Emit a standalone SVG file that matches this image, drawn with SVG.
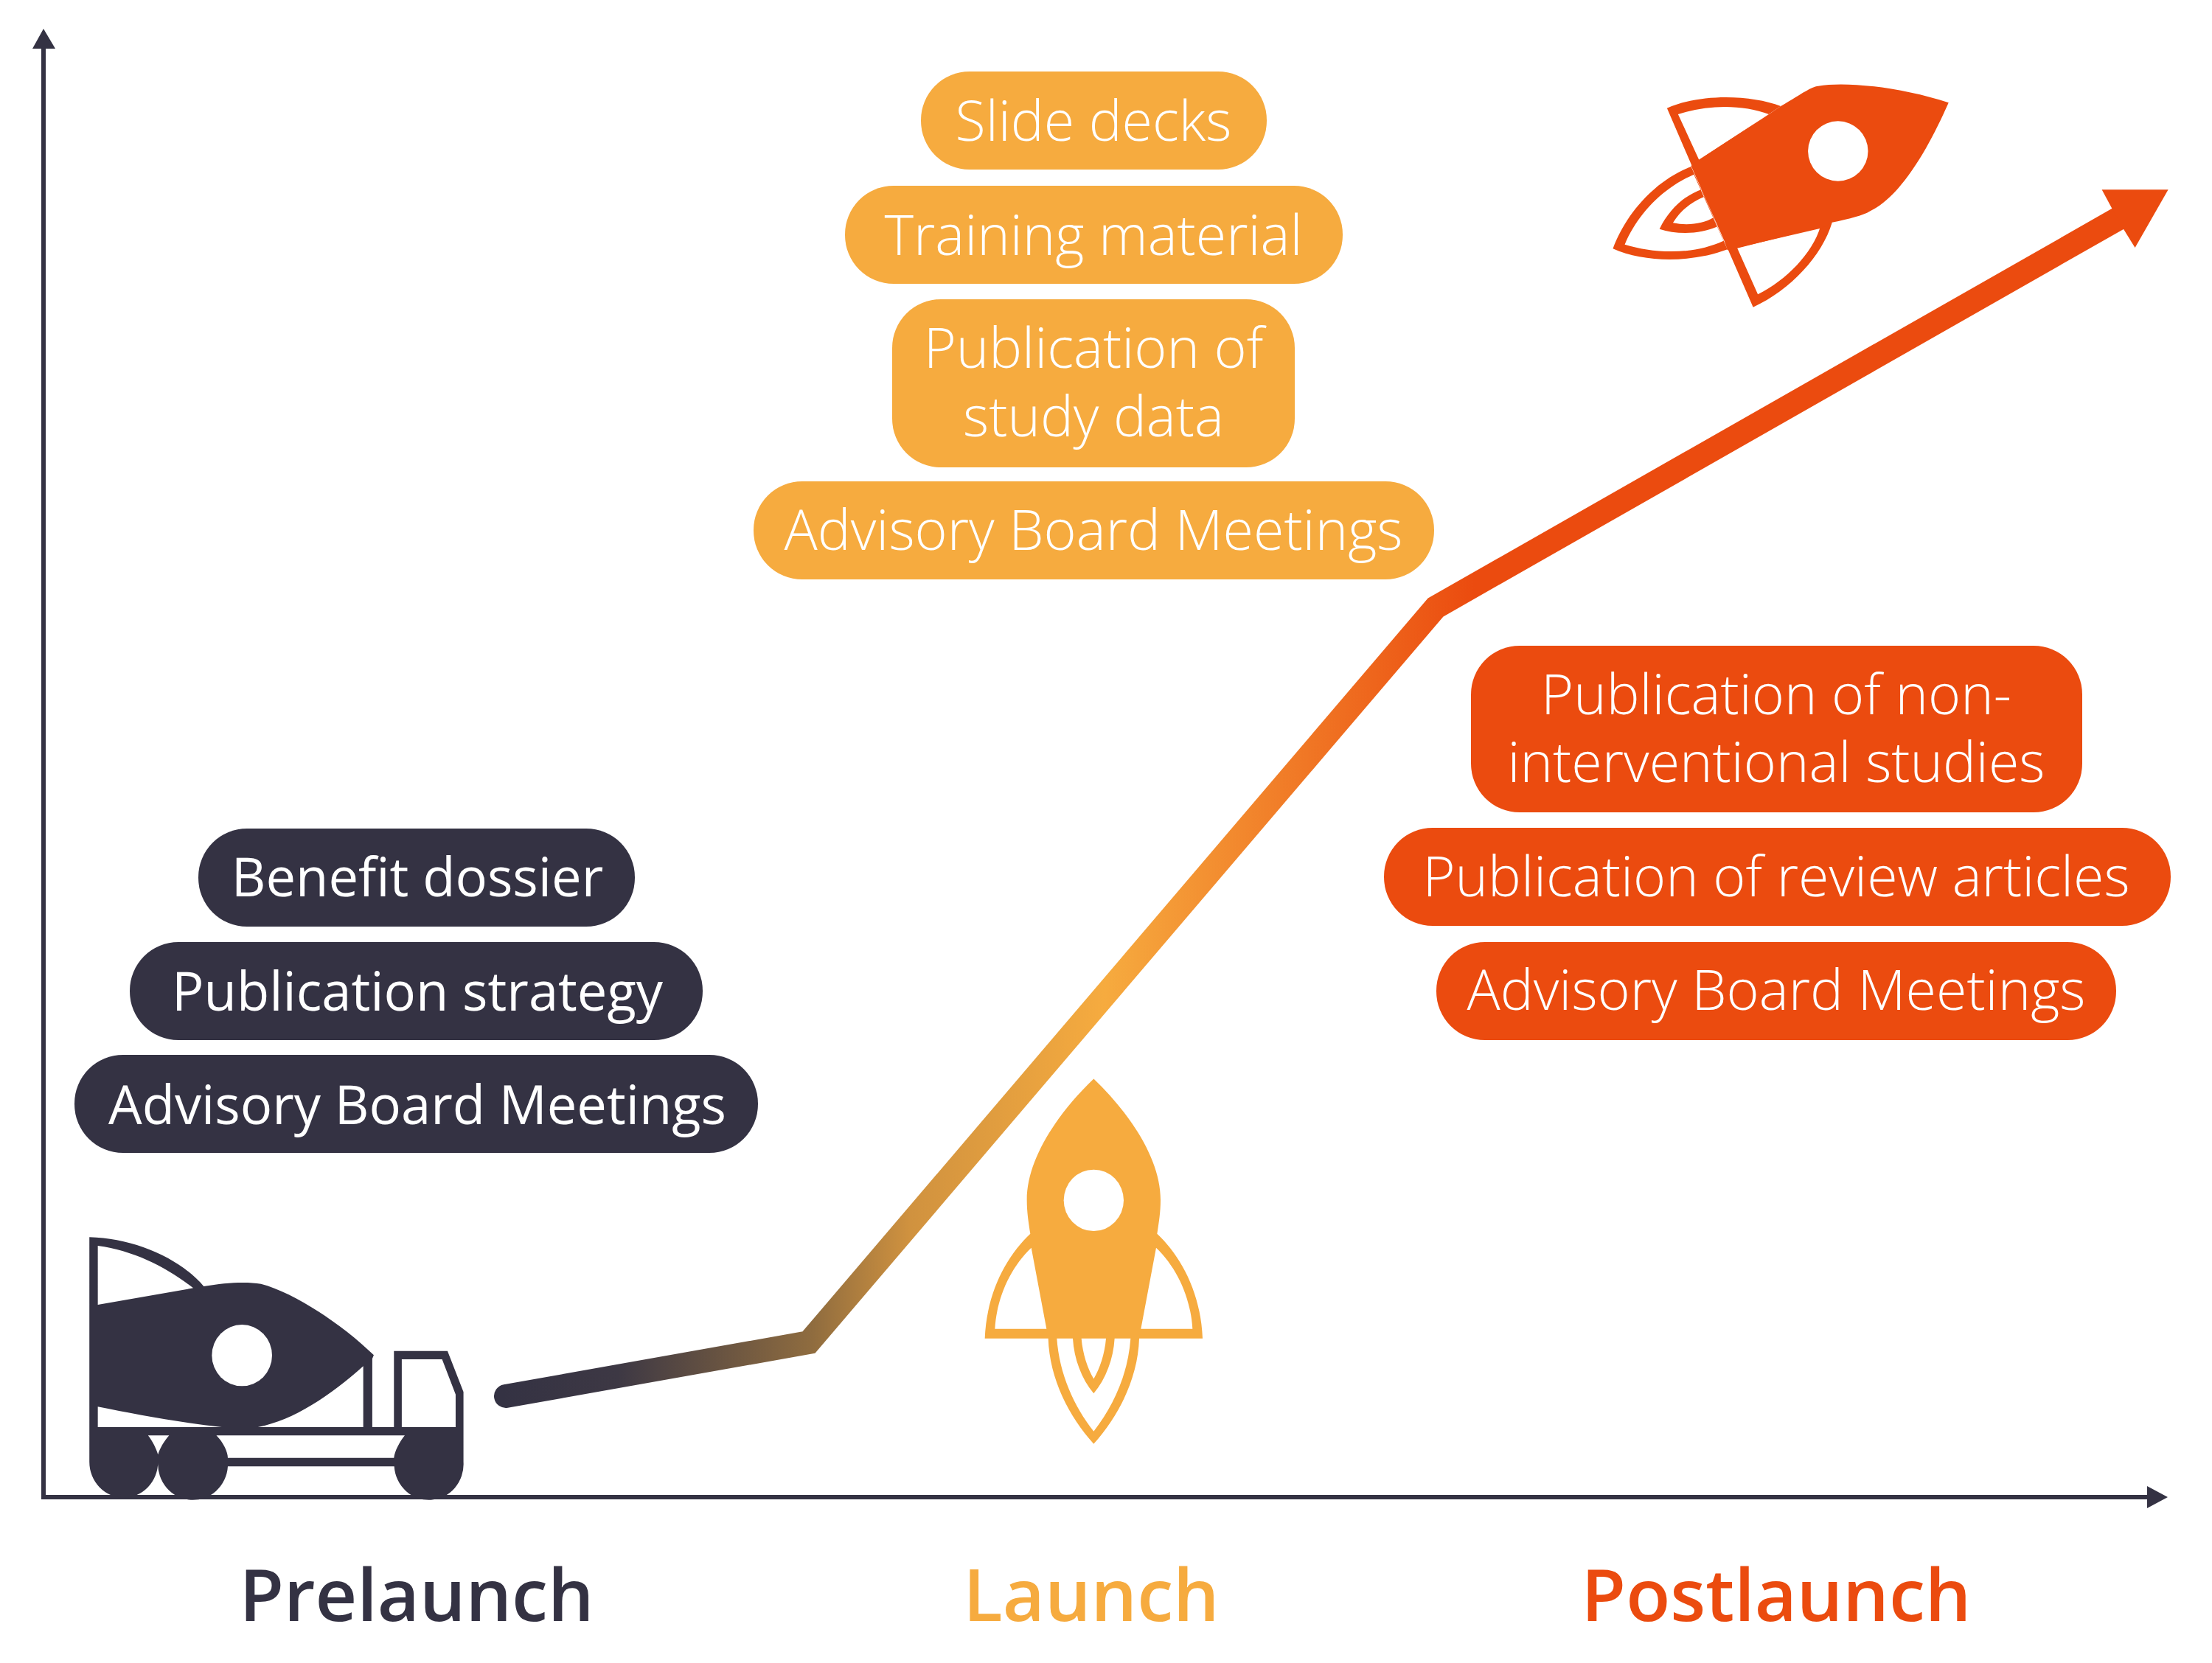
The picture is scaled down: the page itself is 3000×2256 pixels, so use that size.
<svg xmlns="http://www.w3.org/2000/svg" width="3000" height="2256" viewBox="0 0 3000 2256">
<style>
.d{fill:#343243}.y{fill:#F6AB3F}.o{fill:#EB4B0F}
.t{font-family:"Open Sans","Liberation Sans",sans-serif;font-size:72.3px;font-weight:400;fill:#fff;text-anchor:middle}
.l{font-weight:300;font-size:75.4px}
.h{font-family:"Open Sans","Liberation Sans",sans-serif;font-size:98.5px;font-weight:600;text-anchor:middle}
.w{fill:#fff}
</style>
<defs>
<linearGradient id="g" gradientUnits="userSpaceOnUse" x1="679" y1="0" x2="2000" y2="0">
<stop offset="0" stop-color="#343243"/><stop offset="0.12" stop-color="#3d3844"/><stop offset="0.32" stop-color="#8f6c3f"/><stop offset="0.42" stop-color="#d0923f"/><stop offset="0.62" stop-color="#F6AB3F"/><stop offset="1" stop-color="#EB4B0F"/>
</linearGradient>
</defs>
<g id="connectors">
<path class="d" d="M56 2028H2912V2016L2940 2031L2912 2046V2034H56Z"/>
<path class="d" d="M56 2034V66H44L59 39L75 66H62V2034Z"/>
<path d="M686 1894L1097 1821L1947 824L2872 297" fill="none" stroke="url(#g)" stroke-width="32" stroke-linecap="round" stroke-linejoin="miter"/>
<path class="o" d="M2850.6 257.3H2940.6L2895.6 336L2879.5 310L2865 284Z"/>
</g>
<g id="truck-rocket" transform="translate(60 1640) scale(.40816 .33333)">
<path class="d" fill-rule="evenodd" d="M150 115C300 120 450 200 530 315C600 300 670 295 720 305C830 340 990 470 1095 595L1090 610V888H1162V578H1340L1393 745V1030A115 145 0 0 1 1163 1048H610A116 145 0 1 1 378 1030A114 145 0 0 1 150 1030ZM178 150V390L495 322C410 240 300 170 178 150ZM178 805V888H590C450 870 300 835 178 805ZM1060 640C950 760 830 860 710 888H1060ZM1188 612V888H1367V755L1322 612ZM572 922C595 950 610 990 610 1013H1162C1165 985 1180 950 1198 922ZM345 922C360 945 372 975 378 1000C384 975 398 945 415 922Z"/>
<ellipse class="w" cx="657" cy="596" rx="100" ry="125"/>
</g>
<g id="launch-rocket" transform="translate(1300 1443) scale(.33333 .342)">
<path class="y" fill-rule="evenodd" d="M550 60C700 200 822 380 822 540C822 590 815 630 808 675C900 760 985 900 993 1090H735C730 1250 650 1400 550 1508C450 1400 370 1250 365 1090H107C115 900 200 760 292 675C285 630 278 590 278 540C278 380 400 200 550 60ZM148 1052H358L296 730C210 810 155 930 148 1052ZM952 1052H742L804 730C890 810 945 930 952 1052ZM400 1090C410 1230 470 1360 550 1458C630 1360 690 1230 700 1090H635C630 1170 600 1250 550 1308C500 1250 470 1170 465 1090ZM500 1090C505 1150 525 1210 550 1250C575 1210 595 1150 600 1090Z"/>
<circle class="w" cx="550" cy="542" r="122"/>
</g>
<g id="postlaunch-rocket" transform="translate(2150 60) scale(.53562 .33333)">
<path class="o" fill-rule="evenodd" d="M207 260C290 200 420 205 495 252L270 495ZM235 285L288 470L465 285C400 245 310 245 235 285Z"/>
<path class="o" fill-rule="evenodd" d="M360 830L425 1070C520 1000 600 860 625 725L385 825ZM385 830L437 1018C510 960 575 850 595 745Z"/>
<path class="o" fill-rule="evenodd" d="M70 832C100 700 170 560 268 498L360 835C270 890 150 890 70 832ZM100 815C130 700 190 590 275 530L350 800C270 860 170 850 100 815ZM188 752C230 775 290 775 335 742L295 590C245 620 210 680 188 752ZM222 727C260 740 300 730 325 705L302 620C265 645 240 680 222 727Z"/>
<path class="o" d="M920 238C800 175 660 150 590 170C570 175 555 195 495 252L465 285L288 470L268 495L352 800L360 838L385 828L600 748L625 725C670 710 705 695 720 680C800 620 870 420 920 238Z"/>
<ellipse class="w" cx="640" cy="435" rx="76" ry="122"/>
</g>
<g id="prelaunch-1"><rect class="d" x="269" y="1124" width="592" height="133" rx="66"/><text class="t" x="566" y="1216">Benefit dossier</text></g>
<g id="prelaunch-2"><rect class="d" x="176" y="1278" width="777" height="133" rx="66"/><text class="t" x="566" y="1371">Publication strategy</text></g>
<g id="prelaunch-3"><rect class="d" x="101" y="1431" width="927" height="133" rx="66"/><text class="t" x="566" y="1525">Advisory Board Meetings</text></g>
<g id="launch-1"><rect class="y" x="1249" y="97" width="469" height="133" rx="66"/><text class="t l" x="1483" y="191">Slide decks</text></g>
<g id="launch-2"><rect class="y" x="1146" y="252" width="675" height="133" rx="66"/><text class="t l" x="1483" y="346">Training material</text></g>
<g id="launch-3"><rect class="y" x="1210" y="406" width="546" height="228" rx="66"/><text class="t l" x="1483" y="499">Publication of</text><text class="t l" x="1483" y="592">study data</text></g>
<g id="launch-4"><rect class="y" x="1022" y="653" width="923" height="133" rx="66"/><text class="t l" x="1483" y="746">Advisory Board Meetings</text></g>
<g id="postlaunch-1"><rect class="o" x="1995" y="876" width="829" height="226" rx="66"/><text class="t l" x="2409" y="969">Publication of non-</text><text class="t l" x="2409" y="1061">interventional studies</text></g>
<g id="postlaunch-2"><rect class="o" x="1877" y="1123" width="1067" height="133" rx="66"/><text class="t l" x="2409" y="1216">Publication of review articles</text></g>
<g id="postlaunch-3"><rect class="o" x="1948" y="1278" width="922" height="133" rx="66"/><text class="t l" x="2409" y="1370">Advisory Board Meetings</text></g>
<g id="labels">
<text class="h" x="565" y="2199" fill="#343243">Prelaunch</text>
<text class="h" x="1480" y="2199" fill="#F6AB3F">Launch</text>
<text class="h" x="2409" y="2199" fill="#EB4B0F">Postlaunch</text>
</g>
</svg>
